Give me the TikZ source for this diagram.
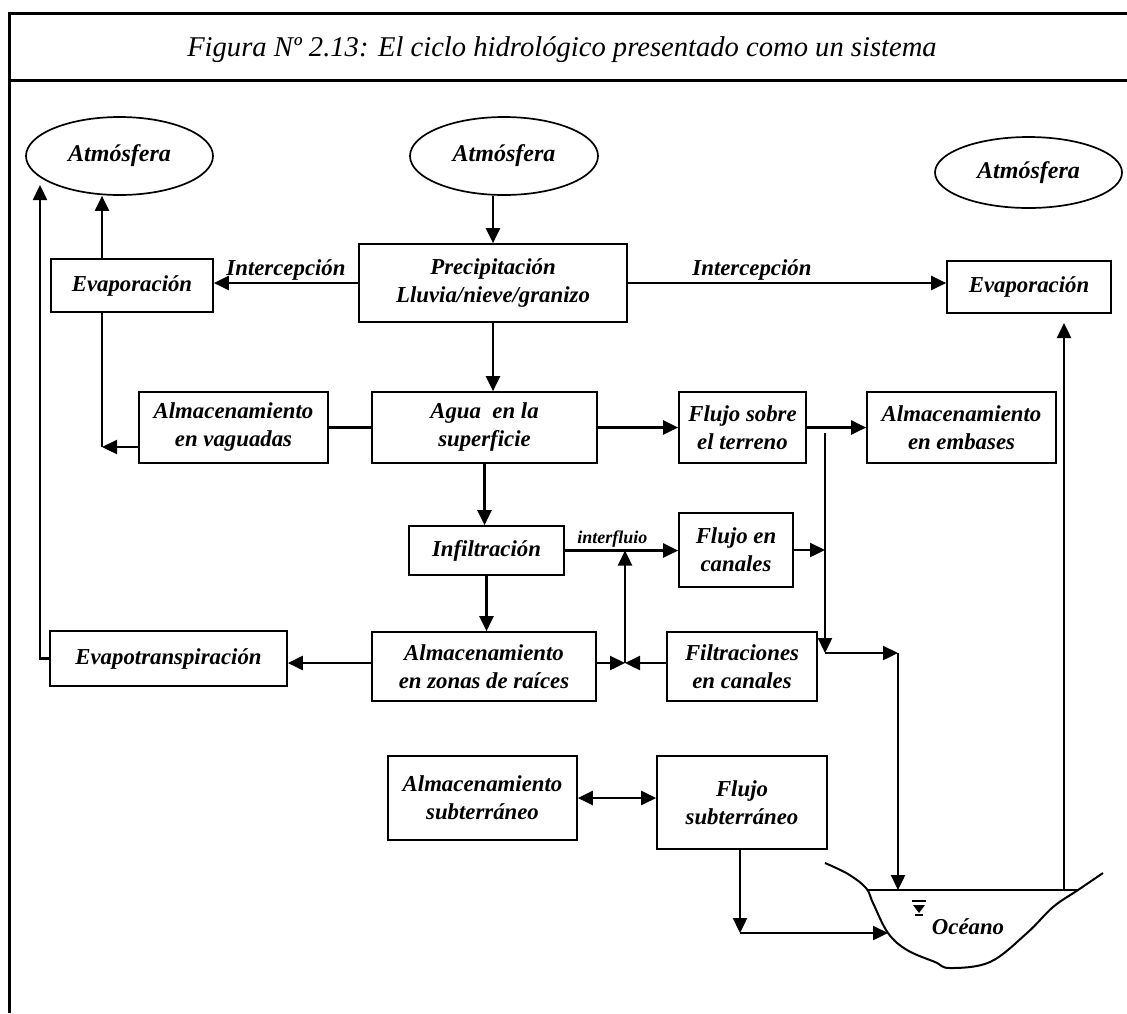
\documentclass[tikz,border=0pt]{standalone}
\usepackage{fontspec}
\setmainfont{Liberation Serif}
\usetikzlibrary{shapes.geometric,arrows.meta,positioning,calc}

\begin{document}
\begin{tikzpicture}[x=0.5pt, y=-0.5pt,
  nodebox/.style={rectangle, draw, line width=0.85pt, align=center, inner sep=1pt, font=\fontsize{11.4}{14}\selectfont\bfseries\itshape},
  atmbox/.style={ellipse, draw, line width=0.85pt, inner sep=0pt, font=\fontsize{12}{14}\selectfont\bfseries\itshape},
  arr/.style={-{Triangle[length=7.5pt, width=7pt]}, line width=1.15pt},
  dbl/.style={{Triangle[length=7.5pt, width=7pt]}-{Triangle[length=7.5pt, width=7pt]}, line width=1.15pt},
  link/.style={line width=1.15pt},
  lbl/.style={font=\fontsize{11.4}{14}\selectfont\bfseries\itshape, inner sep=1pt}
]
  \useasboundingbox (0,0) rectangle (1127,1013);
  % frame and title
  \draw[line width=1.5pt] (1127,13) -- (9,13) -- (9,1013);
  \draw[line width=1.5pt] (9,80) -- (1127,80);
  \node[font=\fontsize{14.3}{16}\selectfont\itshape] (title) at (562,50) {Figura Nº 2.13: El ciclo hidrológico presentado como un sistema};

  % atmosphere
  \node[atmbox, minimum width=93.5pt, minimum height=39pt] (atmL) at (119.5,156) {Atmósfera};
  \node[atmbox, minimum width=94pt, minimum height=39pt] (atmC) at (504,156) {Atmósfera};
  \node[atmbox, minimum width=93.5pt, minimum height=35.5pt] (atmR) at (1028.5,172.5) {Atmósfera};

  % boxes
  \node[nodebox, minimum width=81pt, minimum height=26.5pt] (evapL) at (132,285.5) {Evaporación};
  \node[nodebox, minimum width=134pt, minimum height=39pt] (precip) at (493,283) {Precipitación\\Lluvia/nieve/granizo};
  \node[nodebox, minimum width=82pt, minimum height=26pt] (evapR) at (1029,287) {Evaporación};
  \node[nodebox, minimum width=94.5pt, minimum height=35.5pt] (vaguadas) at (233.5,427.5) {Almacenamiento\\en vaguadas};
  \node[nodebox, minimum width=112.5pt, minimum height=35.5pt] (agua) at (484.5,427.5) {Agua\ \ en la\\superficie};
  \node[nodebox, minimum width=63.5pt, minimum height=35.5pt] (flujoS) at (742.5,427.5) {Flujo sobre\\el terreno};
  \node[nodebox, minimum width=94.5pt, minimum height=35.5pt] (embases) at (961.5,427.5) {Almacenamiento\\en embases};
  \node[nodebox, minimum width=77.5pt, minimum height=24.5pt] (infil) at (486.5,550.5) {Infiltración};
  \node[nodebox, minimum width=57pt, minimum height=37pt] (canales) at (736,550) {Flujo en\\canales};
  \node[nodebox, minimum width=118.5pt, minimum height=27.5pt] (evapot) at (168.5,658.5) {Evapotranspiración};
  \node[nodebox, minimum width=112pt, minimum height=34.5pt] (zonas) at (484,666.5) {Almacenamiento\\en zonas de raíces};
  \node[nodebox, minimum width=75pt, minimum height=34.5pt] (filtr) at (742,666.5) {Filtraciones\\en canales};
  \node[nodebox, minimum width=94.5pt, minimum height=42pt] (almsub) at (482.5,798) {Almacenamiento\\subterráneo};
  \node[nodebox, minimum width=85pt, minimum height=46.5pt] (flujosub) at (742,802.5) {Flujo\\subterráneo};

  % ocean
  \draw[line width=1pt] plot[smooth, tension=0.6] coordinates {(825,863) (848,874) (866,888) (873,903) (888,933) (907,950) (935,962) (950,968) (990,962) (1027,933) (1053,907) (1078,890) (1103,873)};
  \draw[line width=1pt] (867,890) -- (1078,890);
  \draw[line width=1pt] (912,901) -- (926,901);
  \fill (913,905) -- (925,905) -- (919,913) -- cycle;
  \draw[line width=0.9pt] (915,915) -- (923,915);
  \node[lbl] (oceano) at (968,927) {Océano};

  % junctions
  \coordinate (vagC) at (102,447);
  \coordinate (drop) at (825,433);
  \coordinate (dropE) at (825,653);
  \coordinate (ocIn) at (898,653);
  \coordinate (ocTop) at (898,890);
  \coordinate (jn) at (625,663);
  \coordinate (atmLin) at (40,185);
  \coordinate (subC) at (740,933);
  \coordinate (ocBank) at (888,933);
  \coordinate (ocR) at (1064,890);
  \coordinate (evRin) at (1064,323);

  % flows
  \draw[arr] (atmC.south -| precip.north) -- (precip.north);
  \draw[arr] (precip.south) -- (precip.south |- agua.north);
  \draw[arr] (precip.west) -- (precip.west -| evapL.east) node[lbl, midway, above] {Intercepción};
  \draw[arr] (precip.east) -- (precip.east -| evapR.west) node[lbl, pos=0.39, above] {Intercepción};
  \draw[arr] ([xshift=-15pt]evapL.north) -- ([xshift=-15pt]evapL.north |- atmL.south);
  \draw[arr] ([yshift=-9.75pt]vaguadas.west) -- (vagC);
  \draw[link] (vagC) -- (vagC |- evapL.south);
  \draw[link] (agua.west) -- (agua.west -| vaguadas.east);
  \draw[arr] (agua.east) -- (agua.east -| flujoS.west);
  \draw[arr] (flujoS.east) -- (flujoS.east -| embases.west);
  \draw[arr] (drop) -- (dropE);
  \draw[arr] (dropE) -- (ocIn);
  \draw[arr] (ocIn) -- (ocTop);
  \draw[arr] (canales.east) -- (canales.east -| drop);
  \draw[arr] (infil.east) -- (infil.east -| canales.west) node[pos=0.42, above, inner sep=1pt, font=\fontsize{9}{10}\selectfont\bfseries\itshape] {interfluio};
  \draw[arr] (agua.south) -- (agua.south |- infil.north);
  \draw[arr] (infil.south) -- (infil.south |- zonas.north);
  \draw[arr] (jn -| zonas.east) -- (jn);
  \draw[arr] (jn -| filtr.west) -- (jn);
  \draw[arr] (jn) -- (jn |- infil.east);
  \draw[arr] (jn -| zonas.west) -- (jn -| evapot.east);
  \draw[arr] (evapot.west) -| (atmLin);
  \draw[dbl] (almsub.east) -- (almsub.east -| flujosub.west);
  \draw[arr] (flujosub.south -| subC) -- (subC);
  \draw[arr] (subC) -- (ocBank);
  \draw[arr] (ocR) -- (evRin);
\end{tikzpicture}
\end{document}
